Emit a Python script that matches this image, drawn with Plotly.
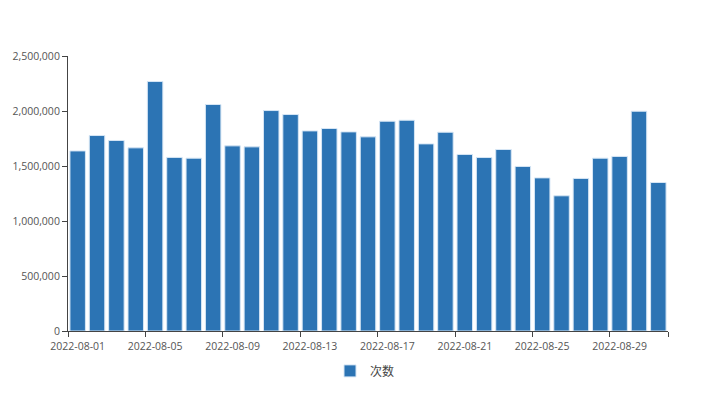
import plotly.graph_objects as go

dates = [f"2022-08-{d:02d}" for d in range(1, 32)]
values = [1637000, 1777000, 1732000, 1665000, 2268000, 1578000, 1571000, 2059000,
          1683000, 1674000, 2004000, 1968000, 1819000, 1841000, 1810000, 1765000,
          1907000, 1916000, 1701000, 1807000, 1605000, 1577000, 1650000, 1496000,
          1392000, 1229000, 1387000, 1571000, 1587000, 1998000, 1350000]
series_name = "次数"
y_ticks = [0, 500000, 1000000, 1500000, 2000000, 2500000]

n = len(dates)
x_pos = [i + 0.5 for i in range(n)]
label_idx = list(range(0, n, 4))
label_vals = [i + 0.5 for i in label_idx]
label_text = [dates[i] for i in label_idx]
tick_bounds = label_idx + [n]

font_family = "Open Sans, Noto Sans CJK SC, sans-serif"
axis_col = "#444444"
text_col = "#555555"

fig = go.Figure()
fig.add_trace(go.Bar(
    x=x_pos, y=values, name=series_name,
    marker=dict(color="#2c74b4", line=dict(color="#d6e6f5", width=1)),
    showlegend=True,
))
# helper (invisible) trace so the boundary-tick axis is drawn
fig.add_trace(go.Scatter(x=[0], y=[0], xaxis="x2", mode="markers",
                         marker=dict(opacity=0), showlegend=False, hoverinfo="skip"))

# offset of 8px body margin in the page compensated by width/height
fig.update_layout(
    width=711, height=389,
    margin=dict(l=60, r=51, t=48, b=66, autoexpand=False),
    paper_bgcolor="white", plot_bgcolor="white",
    bargap=0.2,
    font=dict(family=font_family, size=11, color=text_col),
    showlegend=True,
    legend=dict(orientation="h", x=0.495, xanchor="center", y=-0.145, yanchor="middle",
                font=dict(size=12, color="#444444")),
    xaxis=dict(range=[0, n], tickmode="array", tickvals=label_vals, ticktext=label_text,
               showline=True, linecolor=axis_col, linewidth=1, ticks="outside",
               tickcolor="rgba(0,0,0,0)", ticklen=5,
               showgrid=False, zeroline=False, automargin=False,
               tickfont=dict(size=10.5, color=text_col)),
    xaxis2=dict(range=[0, n], overlaying="x", side="bottom", tickmode="array",
                tickvals=tick_bounds, showticklabels=False,
                showline=False, ticks="outside", tickcolor=axis_col, ticklen=5,
                showgrid=False, zeroline=False, automargin=False),
    yaxis=dict(range=[0, 2500000], tickmode="array", tickvals=y_ticks,
               ticktext=[f"{v:,}" for v in y_ticks],
               showline=True, linecolor=axis_col, linewidth=1, ticks="outside",
               tickcolor=axis_col, ticklen=5, showgrid=False, zeroline=False,
               automargin=False, tickfont=dict(size=10.5, color=text_col)),
)

fig.write_html("out.html")
